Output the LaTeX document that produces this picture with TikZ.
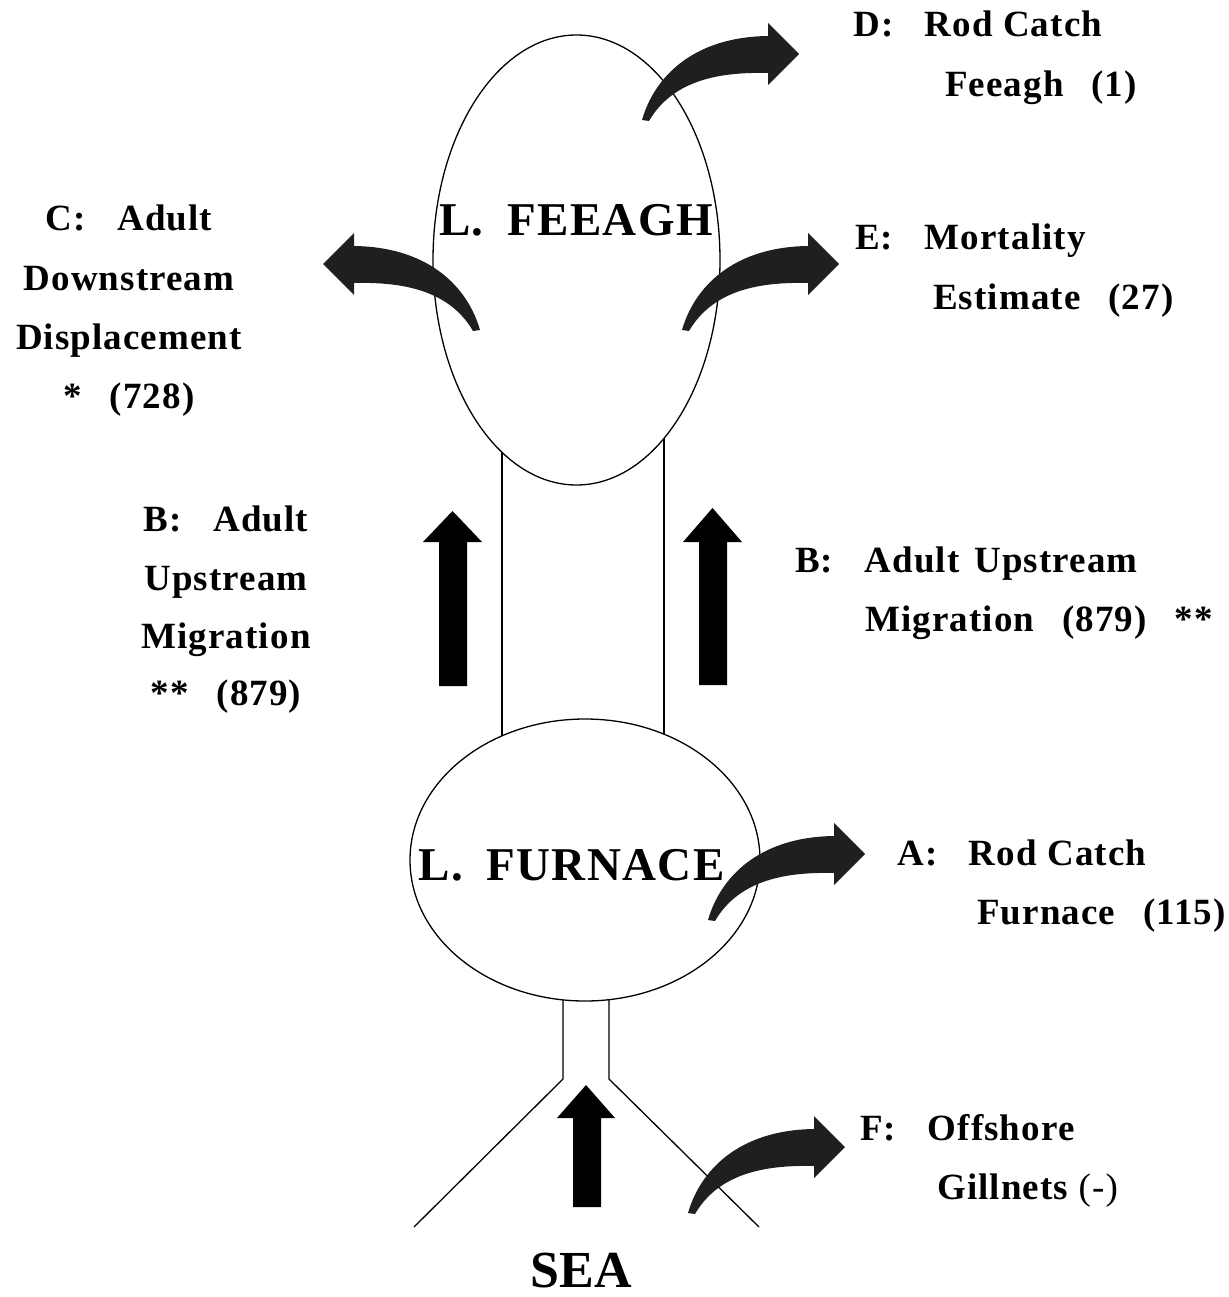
\documentclass[tikz,border=0pt]{standalone}
\usepackage{fontspec}
\setmainfont{Liberation Serif}
\newfontfamily\lblfam{Liberation Serif}[LetterSpace=3]
\usetikzlibrary{shapes.geometric}
\tikzset{
  lbl/.style={inner sep=0pt, font=\lblfam\bfseries\fontsize{37}{42}\selectfont},
  lblw/.style={lbl, anchor=base west},
  lblc/.style={lbl, anchor=base},
  lakename/.style={inner sep=0pt, anchor=base, font=\lblfam\bfseries\fontsize{47}{52}\selectfont},
  lake/.style={draw, ellipse, inner sep=0pt, line width=1.3pt},
  shore/.style={line width=1.3pt},
  blockfill/.style={fill=black},
  bendfill/.style={fill=black!88},
  curvarrow/.pic={\path[bendfill] (0,0) .. controls (12,-42) and (50,-83) .. (126,-84)
     -- (126,-97) -- (157,-66) -- (126,-35) -- (126,-47)
     .. controls (82,-48) and (32,-42) .. (7,1) -- cycle;}
}
\newcommand{\gapA}{\hspace{0.85em}}
\newcommand{\gapB}{\hspace{0.75em}}
\begin{document}
\begin{tikzpicture}[x=1pt,y=-1pt]
\useasboundingbox (0,0) rectangle (1228,1297);
% lakes
\node[lake, minimum width=287pt, minimum height=450pt] (feeagh) at (576.5,260) {};
\node[lake, minimum width=350pt, minimum height=282pt] (furnace) at (585,860) {};
% channel between lakes
\draw[shore] (502,452) -- (502,736);
\draw[shore] (664,438) -- (664,734);
% channel to sea
\draw[shore] (563,1000) -- (563,1079) -- (414,1227);
\draw[shore] (609,1000) -- (609,1079) -- (759,1227);
% straight upstream arrows
\path[blockfill] (439,686) -- (467,686) -- (467,542) -- (482,542) -- (452.5,511) -- (423,542) -- (439,542) -- cycle;
\path[blockfill] (699,685) -- (727,685) -- (727,542) -- (742,542) -- (712.5,508) -- (683,542) -- (699,542) -- cycle;
\path[blockfill] (573,1207) -- (601,1207) -- (601,1118) -- (615,1118) -- (586,1085) -- (557,1118) -- (573,1118) -- cycle;
% curved arrows
\pic at (642,120) {curvarrow};
\pic at (682,330) {curvarrow};
\pic at (708,920) {curvarrow};
\pic at (688,1213) {curvarrow};
\pic[xscale=-1] at (480,330) {curvarrow};
% lake names
\node[lakename] (nfeeagh) at (576,236) {L.\hspace{0.5em}FEEAGH};
\node[lakename] (nfurnace) at (571.5,880) {L.\hspace{0.5em}FURNACE};
\node[inner sep=0pt, anchor=base, font=\bfseries\fontsize{52}{58}\selectfont] (sea) at (581,1287) {SEA};
% D
\node[lblw] (d1) at (853,37) {D:\gapA Rod Catch};
\node[lblw] (d2) at (945,97) {Feeagh\gapB(1)};
% C
\node[lblc] (c1) at (129,231) {C:\gapA Adult};
\node[lblc] (c2) at (129,290) {Downstream};
\node[lblc] (c3) at (129,349) {Displacement};
\node[lblc] (c4) at (129,408) {*\gapB(728)};
% E
\node[lblw] (e1) at (855,250) {E:\gapA Mortality};
\node[lblw] (e2) at (933,309) {Estimate\gapB(27)};
% B left
\node[lblc] (bl1) at (226,531) {B:\gapA Adult};
\node[lblc] (bl2) at (226,590) {Upstream};
\node[lblc] (bl3) at (226,648) {Migration};
\node[lblc] (bl4) at (226,705) {**\gapB(879)};
% B right
\node[lblw] (br1) at (795,572) {B:\gapA Adult\hspace{0.4em}Upstream};
\node[lblw] (br2) at (865,631) {Migration\gapB(879)\gapB**};
% A
\node[lblw] (a1) at (897,865) {A:\gapA Rod Catch};
\node[lblw] (a2) at (977,924) {Furnace\gapB(115)};
% F
\node[lblw] (f1) at (860,1140) {F:\gapA Offshore};
\node[lblw] (f2) at (937,1199) {Gillnets {\mdseries(-)}};
\end{tikzpicture}
\end{document}
